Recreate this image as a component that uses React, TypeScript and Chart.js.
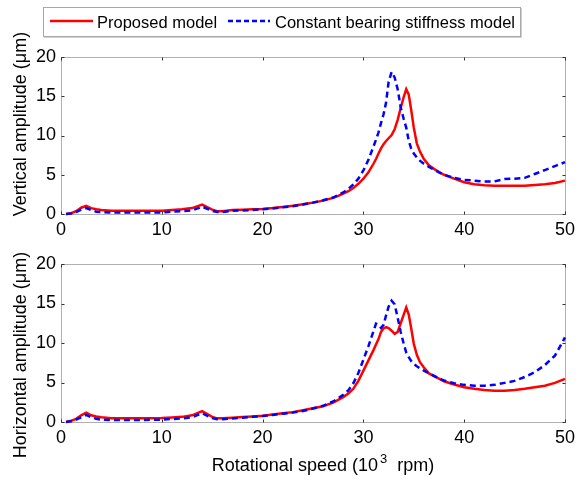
import React, { useEffect, useRef } from 'react';
import { Chart, registerables } from 'chart.js';

Chart.register(...registerables);

// Rotational speed (10^3 rpm)
const speed = [0.5, 1, 1.5, 2, 2.5, 3, 3.5, 4, 5, 6, 8, 10, 11, 12, 13, 14, 15, 15.5, 16, 17, 18, 19, 20, 21, 22, 23, 24, 25, 26, 27, 27.5, 28, 28.5, 29, 29.5, 30, 30.5, 31, 31.25, 31.5, 31.75, 32, 32.25, 32.5, 32.8, 33.1, 33.4, 33.7, 34, 34.25, 34.5, 34.75, 35, 35.3, 35.6, 36, 36.5, 37, 37.5, 38, 39, 40, 41, 42, 43, 44, 45, 46, 47, 48, 49, 50];

// Vertical amplitude (µm)
const vertProposed = [0, 0.1, 0.35, 0.8, 1.05, 0.75, 0.6, 0.5, 0.4, 0.4, 0.4, 0.42, 0.5, 0.6, 0.75, 1.2, 0.55, 0.35, 0.35, 0.5, 0.55, 0.6, 0.65, 0.75, 0.9, 1.05, 1.25, 1.45, 1.7, 2.05, 2.3, 2.6, 2.9, 3.3, 3.85, 4.5, 5.3, 6.4, 7.0, 7.7, 8.35, 8.9, 9.3, 9.65, 10.05, 10.8, 12.0, 13.5, 14.9, 15.9, 15.2, 13.2, 11.0, 9.0, 8.0, 7.0, 6.2, 5.75, 5.35, 5.0, 4.5, 4.05, 3.8, 3.65, 3.6, 3.6, 3.6, 3.6, 3.7, 3.8, 3.95, 4.25];
const vertConstant = [0, 0.05, 0.25, 0.55, 0.75, 0.5, 0.3, 0.25, 0.18, 0.18, 0.18, 0.2, 0.3, 0.35, 0.45, 0.93, 0.4, 0.25, 0.25, 0.4, 0.45, 0.5, 0.6, 0.7, 0.85, 1.0, 1.2, 1.45, 1.75, 2.1, 2.4, 2.75, 3.2, 3.75, 4.5, 5.55, 6.9, 8.6, 9.45, 10.4, 11.6, 12.7, 14.2, 16.8, 18.1, 17.4, 15.9, 13.6, 12.1, 11.0, 9.3, 8.3, 7.7, 7.2, 6.8, 6.4, 6.0, 5.65, 5.3, 5.0, 4.6, 4.35, 4.25, 4.15, 4.15, 4.45, 4.5, 4.6, 5.1, 5.6, 6.1, 6.6];

// Horizontal amplitude (µm)
const horizProposed = [0, 0.15, 0.4, 0.85, 1.18, 0.85, 0.7, 0.6, 0.48, 0.47, 0.47, 0.5, 0.58, 0.65, 0.85, 1.38, 0.65, 0.46, 0.46, 0.55, 0.62, 0.7, 0.8, 0.95, 1.1, 1.25, 1.5, 1.75, 2.0, 2.45, 2.8, 3.15, 3.6, 4.2, 5.2, 6.5, 7.8, 9.1, 9.8, 10.5, 11.4, 11.85, 12.0, 11.9, 11.55, 11.15, 11.4, 12.5, 13.6, 14.5, 13.6, 11.8, 9.9, 8.5, 7.6, 6.9, 6.15, 5.8, 5.5, 5.15, 4.75, 4.4, 4.2, 4.05, 3.95, 3.95, 4.05, 4.2, 4.4, 4.6, 4.95, 5.45];
const horizConstant = [0, 0.1, 0.3, 0.6, 0.89, 0.6, 0.4, 0.3, 0.25, 0.25, 0.25, 0.3, 0.38, 0.45, 0.62, 1.1, 0.5, 0.34, 0.34, 0.45, 0.55, 0.65, 0.75, 0.9, 1.05, 1.2, 1.4, 1.7, 2.05, 2.6, 3.0, 3.45, 4.0, 4.9, 6.2, 7.9, 9.6, 11.5, 12.45, 12.3, 11.9, 12.3, 13.5, 14.6, 15.35, 14.9, 13.2, 11.4, 9.9, 8.8, 8.2, 7.7, 7.35, 7.05, 6.8, 6.5, 6.15, 5.85, 5.5, 5.25, 4.9, 4.7, 4.6, 4.6, 4.7, 4.95, 5.2, 5.7, 6.3, 7.2, 8.4, 10.7];

const seriesNames = ['Proposed model', 'Constant bearing stiffness model'];
const xLimits = [0, 50];
const xStep = 10;
const yLimits = [0, 20];
const yStep = 5;

const FONT = "'Liberation Sans', Arial, Helvetica, sans-serif";
const RED = '#ff0000';
const BLUE = '#0000ff';

const framePlugin = {
  id: 'frame',
  beforeDatasetsDraw(chart: any) {
    const { ctx, chartArea, scales } = chart;
    const l = Math.round(chartArea.left) + 0.5;
    const r = Math.round(chartArea.right) + 0.5;
    const t = Math.round(chartArea.top) + 0.5;
    const b = Math.round(chartArea.bottom) + 0.5;
    ctx.save();
    ctx.strokeStyle = '#b0b0b0';
    ctx.lineWidth = 1;
    ctx.strokeRect(l, t, r - l, b - t);
    ctx.strokeStyle = '#333333';
    const tl = 3;
    ctx.beginPath();
    scales.x.ticks.forEach((tk: any) => {
      const p = Math.round(scales.x.getPixelForValue(tk.value)) + 0.5;
      ctx.moveTo(p, b); ctx.lineTo(p, b - tl);
      ctx.moveTo(p, t); ctx.lineTo(p, t + tl);
    });
    scales.y.ticks.forEach((tk: any) => {
      const p = Math.round(scales.y.getPixelForValue(tk.value)) + 0.5;
      ctx.moveTo(l, p); ctx.lineTo(l + tl, p);
      ctx.moveTo(r, p); ctx.lineTo(r - tl, p);
    });
    ctx.stroke();
    ctx.restore();
  },
};

// Axis titles (drawn as canvas text, MATLAB-like placement with superscript)
function makeTitlePlugin(yTitle: string, yCenter: number, withXTitle: boolean) {
  return {
    id: 'axisTitles',
    afterDraw(chart: any) {
      const { ctx } = chart;
      ctx.save();
      ctx.fillStyle = '#000';
      ctx.font = `18px ${FONT}`;
      ctx.textBaseline = 'alphabetic';
      ctx.textAlign = 'center';
      ctx.translate(26, yCenter);
      ctx.rotate(-Math.PI / 2);
      ctx.fillText(yTitle, 0, 0);
      ctx.restore();
      if (withXTitle) {
        const part1 = 'Rotational speed (10';
        const sup = '3';
        const part3 = ' rpm)';
        ctx.save();
        ctx.fillStyle = '#000';
        ctx.textBaseline = 'alphabetic';
        ctx.textAlign = 'left';
        ctx.font = `18px ${FONT}`;
        const w1 = ctx.measureText(part1).width;
        const w3 = ctx.measureText(part3).width;
        ctx.font = `13px ${FONT}`;
        const ws = ctx.measureText(sup).width;
        const total = w1 + 2 + ws + 5 + w3;
        const cx = 323;
        const base = 231;
        let x = cx - total / 2;
        ctx.font = `18px ${FONT}`;
        ctx.fillText(part1, x, base);
        x += w1 + 2;
        ctx.font = `13px ${FONT}`;
        ctx.fillText(sup, x, base - 8);
        x += ws + 5;
        ctx.font = `18px ${FONT}`;
        ctx.fillText(part3, x, base);
        ctx.restore();
      }
    },
  };
}

function makeConfig(red: number[], blue: number[], yTitle: string, yCenter: number, withXTitle: boolean, padTop: number, xHeight: number): any {
  return {
    type: 'line',
    data: {
      datasets: [
        {
          label: seriesNames[0],
          data: speed.map((x, i) => ({ x, y: red[i] })),
          borderColor: RED,
          backgroundColor: RED,
          borderWidth: 2.5,
          pointRadius: 0,
          tension: 0,
          clip: 4,
          order: 2,
        },
        {
          label: seriesNames[1],
          data: speed.map((x, i) => ({ x, y: blue[i] })),
          borderColor: BLUE,
          backgroundColor: BLUE,
          borderWidth: 2.5,
          borderDash: [6, 4],
          pointRadius: 0,
          tension: 0,
          clip: 4,
          order: 1,
        },
      ],
    },
    options: {
      responsive: false,
      animation: false,
      devicePixelRatio: 1,
      layout: { padding: { top: padTop, right: 13, left: 0, bottom: 0 } },
      plugins: {
        legend: { display: false },
        tooltip: { enabled: false },
      },
      scales: {
        x: {
          type: 'linear',
          min: xLimits[0],
          max: xLimits[1],
          grid: { display: false, drawTicks: false },
          border: { display: false },
          ticks: {
            stepSize: xStep,
            autoSkip: false,
            maxRotation: 0,
            padding: 5,
            color: '#000',
            font: { family: FONT, size: 18 },
          },
          title: { display: false },
          afterFit: (s: any) => {
            s.height = xHeight;
          },
        },
        y: {
          type: 'linear',
          min: yLimits[0],
          max: yLimits[1],
          grid: { display: false, drawTicks: false },
          border: { display: false },
          ticks: {
            stepSize: yStep,
            padding: 5,
            color: '#000',
            font: { family: FONT, size: 18 },
          },
          title: { display: false },
          afterFit: (s: any) => {
            s.width = 61;
          },
        },
      },
    },
    plugins: [framePlugin, makeTitlePlugin(yTitle, yCenter, withXTitle)],
  };
}

function Panel(props: { red: number[]; blue: number[]; yTitle: string; yCenter: number; withXTitle: boolean; padTop: number; xHeight: number; top: number }) {
  const ref = useRef<HTMLCanvasElement | null>(null);
  useEffect(() => {
    if (!ref.current) return;
    const chart = new Chart(
      ref.current,
      makeConfig(props.red, props.blue, props.yTitle, props.yCenter, props.withXTitle, props.padTop, props.xHeight)
    );
    return () => chart.destroy();
  }, []);
  return (
    <canvas
      ref={ref}
      width={580}
      height={240}
      style={{ position: 'absolute', left: 0, top: props.top, width: 580, height: 240, display: 'block' }}
    />
  );
}

function Legend() {
  const textStyle: React.CSSProperties = {
    position: 'absolute',
    top: 6,
    fontFamily: FONT,
    fontSize: 16.5,
    lineHeight: '17px',
    color: '#000',
    whiteSpace: 'nowrap',
  };
  return (
    <div
      style={{
        position: 'absolute',
        left: 43,
        top: 7,
        width: 478,
        height: 30,
        boxSizing: 'border-box',
        border: '1px solid #a8a8a8',
        boxShadow: '1px 1px 0 #d0d0d0',
        background: '#fff',
      }}
    >
      <svg style={{ position: 'absolute', left: 6, top: 10 }} width={44} height={6}>
        <line x1={0} y1={3} x2={43} y2={3} stroke={RED} strokeWidth={2.5} />
      </svg>
      <span style={{ ...textStyle, left: 53 }}>{seriesNames[0]}</span>
      <svg style={{ position: 'absolute', left: 184, top: 10 }} width={44} height={6}>
        <line x1={0} y1={3} x2={42} y2={3} stroke={BLUE} strokeWidth={2.5} strokeDasharray="5 3" />
      </svg>
      <span style={{ ...textStyle, left: 231 }}>{seriesNames[1]}</span>
    </div>
  );
}

export default function App() {
  return (
    <div style={{ position: 'absolute', left: 0, top: 0, width: 580, height: 480, background: '#fff', overflow: 'hidden' }}>
      <Panel red={vertProposed} blue={vertConstant} yTitle="Vertical amplitude (μm)" yCenter={124} withXTitle={false} padTop={57} xHeight={26} top={0} />
      <Panel red={horizProposed} blue={horizConstant} yTitle="Horizontal amplitude (μm)" yCenter={115} withXTitle={true} padTop={24} xHeight={58} top={240} />
      <Legend />
    </div>
  );
}
